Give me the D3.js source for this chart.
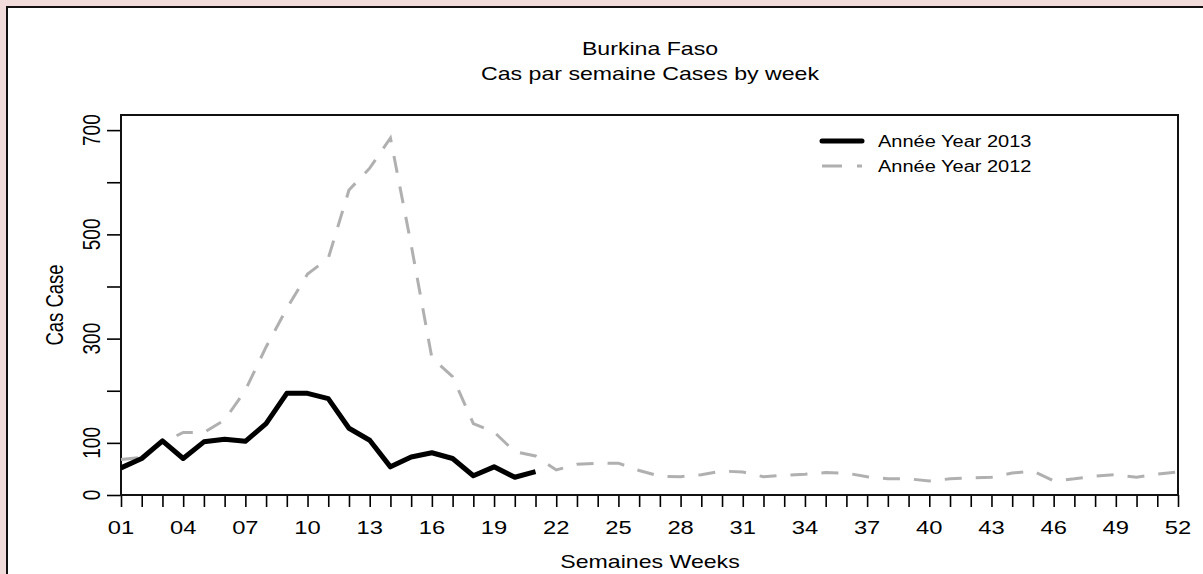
<!DOCTYPE html>
<html>
<head>
<meta charset="utf-8">
<script src="https://cdn.jsdelivr.net/npm/d3@7"></script>
<style>
  body { margin: 0; background: #f2dcdb; }
  svg { display: block; }
  text { font-family: "Liberation Sans", Arial, sans-serif; fill: #000; }
</style>
</head>
<body>
<div class="graph"></div>
<script>
// weekly cases, Burkina Faso
var weeks = d3.range(1, 53);
var cases2013 = [52, 70, 104, 70, 102, 107, 103, 137, 195, 195, 185, 128, 105, 54, 73, 81, 70, 37, 54, 34, 45];
var cases2012 = [68, 72, 100, 120, 120, 144, 201, 284, 358, 424, 454, 585, 627, 685, 480,
    263, 227, 137, 121, 83, 75, 48, 59, 61, 61, 47, 36, 35, 39, 46,
    44, 35, 38, 40, 43, 42, 35, 31, 31, 27, 31, 33, 34, 42, 46,
    27, 31, 36, 39, 34, 40, 44];
var xTickLabels = ["01", "04", "07", "10", "13", "16", "19", "22", "25", "28", "31", "34", "37", "40", "43", "46", "49", "52"];
var yTicks = [0, 100, 200, 300, 400, 500, 600, 700];
var yTickLabels = ["0", "100", "300", "500", "700"];
var legendLabels = ["Ann\u00e9e Year 2013", "Ann\u00e9e Year 2012"];

var width = 1203,
    height = 574,
    sx = 1.25; // the picture is stretched sideways

var plotLeft = 121, plotRight = 1178, plotTop = 115, plotBottom = 495;

var x = d3.scaleLinear()
    .domain([1, 52])
    .range([plotLeft, plotRight]);

var y = d3.scaleLinear()
    .domain([0, 729])
    .range([plotBottom, plotTop]);

var svg = d3.select('.graph').append('svg')
    .attr('width', width)
    .attr('height', height);

// white panel
svg.append('rect')
    .attr('x', 7).attr('y', 7)
    .attr('width', width + 20).attr('height', height + 20)
    .attr('fill', '#fff')
    .attr('stroke', '#111')
    .attr('stroke-width', 2);

function stretched(sel, px, py, rot) {
    sel.attr('transform', 'translate(' + px + ',' + py + ') scale(' + sx + ',1)' + (rot ? ' rotate(' + rot + ')' : ''));
}

// titles
svg.append('text').attr('text-anchor', 'middle').attr('font-size', 18.5)
    .call(stretched, 650, 55).text('Burkina Faso');
svg.append('text').attr('text-anchor', 'middle').attr('font-size', 18.5)
    .call(stretched, 650, 80).text('Cas par semaine Cases by week');

// x axis
var xAxis = svg.append('g')
    .attr('transform', 'translate(0,' + plotBottom + ')')
    .call(d3.axisBottom(x).tickValues(weeks).tickSize(12).tickFormat(''));
xAxis.select('.domain').remove();
xAxis.selectAll('.tick line').attr('stroke-width', 1.6);

svg.append('g').selectAll('text')
    .data(xTickLabels)
    .join('text')
    .attr('text-anchor', 'middle')
    .attr('font-size', 19)
    .each(function (d) { d3.select(this).call(stretched, x(+d), 534); })
    .text(function (d) { return d; });

// y axis
var yAxis = svg.append('g')
    .attr('transform', 'translate(' + plotLeft + ',0)')
    .call(d3.axisLeft(y).tickValues(yTicks).tickSize(14).tickFormat(''));
yAxis.select('.domain').remove();
yAxis.selectAll('.tick line').attr('stroke-width', 1.6);

svg.append('g').selectAll('text')
    .data(yTickLabels)
    .join('text')
    .attr('text-anchor', 'middle')
    .attr('font-size', 19)
    .each(function (d) { d3.select(this).call(stretched, 100, y(+d), -90); })
    .text(function (d) { return d; });

svg.append('text').attr('text-anchor', 'middle').attr('font-size', 18.5)
    .call(stretched, 63, (plotTop + plotBottom) / 2, -90).text('Cas Case');
svg.append('text').attr('text-anchor', 'middle').attr('font-size', 18.5)
    .call(stretched, 650, 568).text('Semaines Weeks');

// plot box
svg.append('rect')
    .attr('x', plotLeft).attr('y', plotTop)
    .attr('width', plotRight - plotLeft).attr('height', plotBottom - plotTop)
    .attr('fill', 'none')
    .attr('stroke', '#111')
    .attr('stroke-width', 2);

var line = d3.line()
    .x(function (d, i) { return x(weeks[i]); })
    .y(function (d) { return y(d); });

svg.append('path')
    .datum(cases2012)
    .attr('d', line)
    .attr('fill', 'none')
    .attr('stroke', '#b0b0b0')
    .attr('stroke-width', 3)
    .attr('stroke-dasharray', '17,14');

svg.append('path')
    .datum(cases2013)
    .attr('d', line)
    .attr('fill', 'none')
    .attr('stroke', '#000')
    .attr('stroke-width', 5)
    .attr('stroke-linejoin', 'round');

// legend
var legend = svg.append('g');
legend.append('line')
    .attr('x1', 822).attr('x2', 862).attr('y1', 141).attr('y2', 141)
    .attr('stroke', '#000').attr('stroke-width', 5).attr('stroke-linecap', 'round');
legend.append('line')
    .attr('x1', 822).attr('x2', 862).attr('y1', 166).attr('y2', 166)
    .attr('stroke', '#b0b0b0').attr('stroke-width', 3).attr('stroke-dasharray', '20,15');
legend.selectAll('text.lab')
    .data(legendLabels)
    .join('text')
    .attr('class', 'lab')
    .attr('font-size', 16)
    .each(function (d, i) { d3.select(this).call(stretched, 878, 147 + i * 25); })
    .text(function (d) { return d; });
</script>
</body>
</html>
